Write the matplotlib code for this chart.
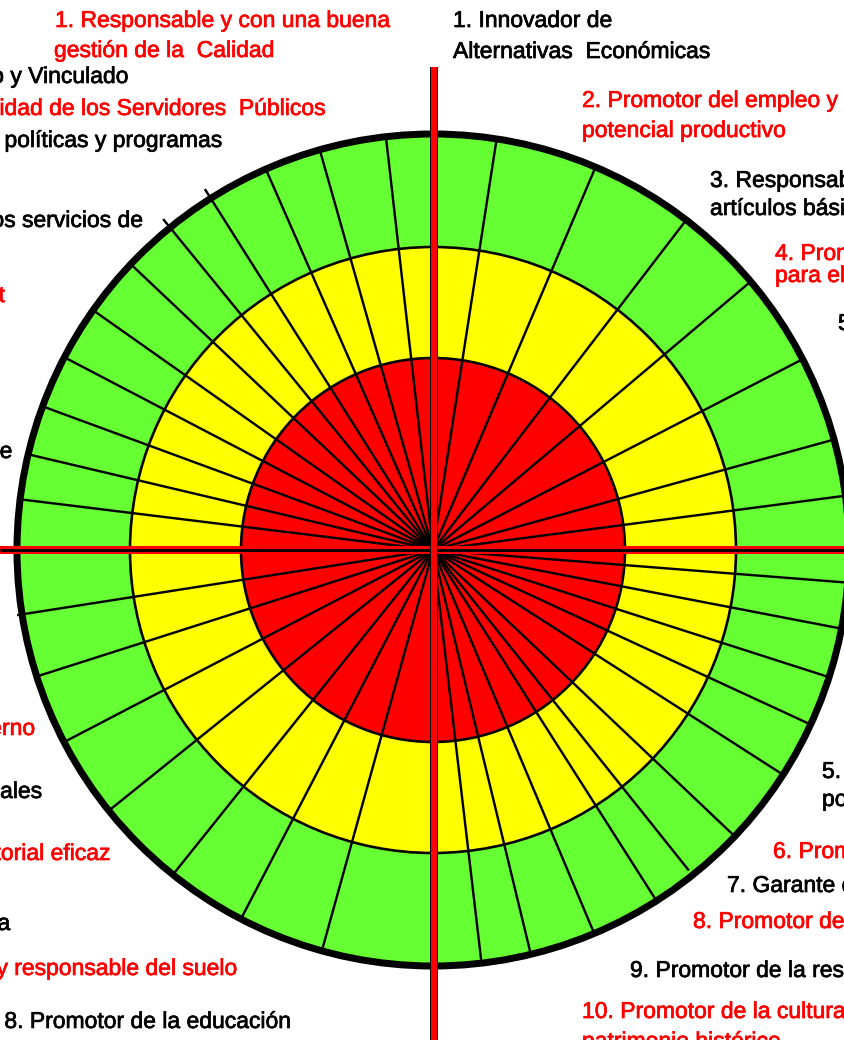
import numpy as np
import matplotlib
matplotlib.use("Agg")
import matplotlib.pyplot as plt
from matplotlib.patches import Circle
import matplotlib.patheffects as pe

W, H = 844, 1040

# ---------------- data ----------------
ring_names = ["verde", "amarillo", "rojo"]
ring_radius = [416, 303, 192]
ring_color = ["#66FF33", "#FFFF00", "#FF0000"]

spoke_angles = [0, 7.5, 15.4, 27.3, 40.2, 52.5, 67.0, 81.2, 90,
                96.5, 105.8, 113.7, 122.3, 129.2, 136.6, 144.8, 152.4,
                159.8, 166.7, 173.0, 180,
                188.9, 197.7, 207.5, 218.8, 231.3, 242.5, 254.5, 270,
                276.7, 283.6, 292.8, 302.5, 308.6, 316.5, 327.3, 335.2,
                342.2, 349.1, 355.5]

label_text = [
    "1. Responsable y con una buena",
    "gestión de la  Calidad",
    "2. Municipio asociado y Vinculado",
    "3. Con calidad de los Servidores  Públicos",
    "4. Participativo en las políticas y programas",
    "5. Con acceso a los servicios de",
    "6. Fiscalmente responsable y con internet",
    "7. Promotor de la seguridad pública de",
    "9. Con un buen Gobierno",
    "10. Cuidado de los recursos naturales",
    "11. Con ordenamiento territorial eficaz",
    "12. Promotor del cuidado del agua",
    "13. Con un uso racional y responsable del suelo",
    "8. Promotor de la educación",
    "1. Innovador de",
    "Alternativas  Económicas",
    "2. Promotor del empleo y",
    "potencial productivo",
    "3. Responsable del abasto de",
    "artículos básicos",
    "4. Promotor de la capacitación",
    "para el empleo local",
    "5. Promotor del desarrollo",
    "5. Promotor de la equidad de género y",
    "población vulnerable",
    "6. Promotor de la salud",
    "7. Garante de la vivienda digna",
    "8. Promotor del deporte",
    "9. Promotor de la responsabilidad social",
    "10. Promotor de la cultura y el",
    "patrimonio histórico",
]
label_color = [
    "red", "red", "black", "red", "black", "black", "red", "black",
    "red", "black", "red", "black", "red", "black",
    "black", "black", "red", "red", "black", "black", "red", "red",
    "black", "black", "black", "red", "black", "red", "black", "red", "red",
]

# ---------------- layout ----------------
cx, cy = 433, 550
label_pos = [  # (x, baseline y, horizontal alignment)
    (55, 27, "left"), (54, 57, "left"),
    (128, 83, "right"), (325, 115, "right"), (222, 147, "right"),
    (143, 227, "right"), (5, 302, "right"), (12, 458, "right"),
    (35, 735, "right"), (42, 798, "right"), (110, 860, "right"),
    (10, 930, "right"), (237, 975, "right"), (291, 1028, "right"),
    (453, 27, "left"), (453, 58, "left"),
    (582, 107, "left"), (582, 137, "left"),
    (710, 187, "left"), (710, 215, "left"),
    (775, 260, "left"), (775, 282, "left"),
    (838, 330, "left"),
    (822, 778, "left"), (822, 806, "left"),
    (773, 858, "left"), (727, 892, "left"), (693, 928, "left"),
    (630, 977, "left"), (582, 1018, "left"), (582, 1048, "left"),
]
spoke_reach = {122.3: 427, 129.2: 427, 188.9: 421, 308.6: 410}
PX = 0.72  # points per pixel at dpi 100

fig = plt.figure(figsize=(W / 100, H / 100), dpi=100)
ax = fig.add_axes([0, 0, 1, 1])
ax.set_xlim(0, W)
ax.set_ylim(H, 0)
ax.set_aspect("equal")
ax.axis("off")

# rings
for i, (r, c) in enumerate(zip(ring_radius, ring_color)):
    ax.add_patch(Circle((cx, cy), r, facecolor=c,
                        edgecolor="black" if i > 0 else "none",
                        linewidth=2.6 * PX, zorder=1 + i))

# spokes
for a in spoke_angles:
    r = spoke_reach.get(a, ring_radius[0])
    t = np.deg2rad(a)
    ax.plot([cx, cx + r * np.cos(t)], [cy, cy - r * np.sin(t)],
            color="black", lw=2.4 * PX, zorder=5, solid_capstyle="butt")

# outer border
ax.add_patch(Circle((cx, cy), ring_radius[0], facecolor="none",
                    edgecolor="black", linewidth=7 * PX, zorder=6))

# axis cross
ax.plot([0, W], [cy, cy], color="#FF0000", lw=8 * PX, zorder=7,
        solid_capstyle="butt")
ax.plot([0, W], [cy, cy], color="black", lw=2.8 * PX, zorder=8,
        solid_capstyle="butt")
ax.plot([cx + 0.5, cx + 0.5], [67, H], color="#FF0000", lw=6 * PX, zorder=9,
        solid_capstyle="butt",
        path_effects=[pe.Stroke(linewidth=8 * PX, foreground="black"),
                      pe.Normal()])

# labels
for txt, col, (x, y, ha) in zip(label_text, label_color, label_pos):
    c = "#FF0000" if col == "red" else "black"
    ax.text(x, y, txt, color=c, ha=ha, va="baseline", fontsize=16.5,
            family=["Liberation Sans", "DejaVu Sans"], zorder=10,
            path_effects=[pe.Stroke(linewidth=0.5, foreground=c),
                          pe.Normal()])

fig.savefig("out.png", dpi=100)
